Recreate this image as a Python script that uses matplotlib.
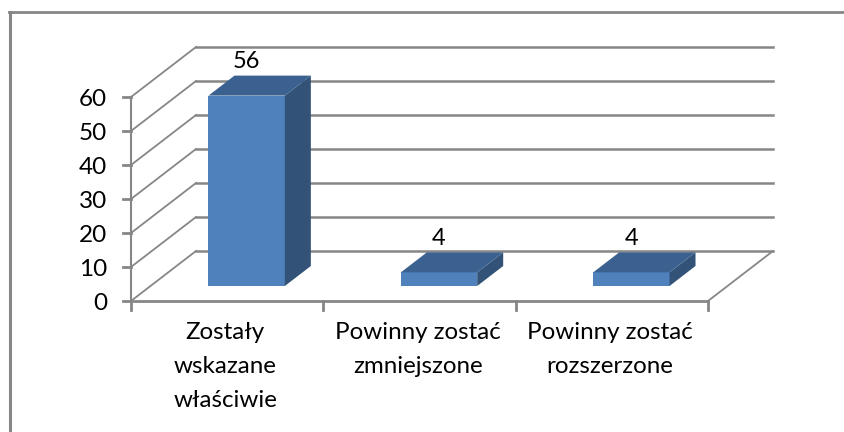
import matplotlib
matplotlib.use('Agg')
import matplotlib.pyplot as plt

categories = ['Zostały\nwskazane\nwłaściwie', 'Powinny zostać\nzmniejszone', 'Powinny zostać\nrozszerzone']
values = [56, 4, 4]
y_ticks = [0, 10, 20, 30, 40, 50, 60]

plt.rcParams['font.family'] = ['Lato', 'DejaVu Sans']

W, H = 845, 432
# front plane of the 3D box in pixels
left, right, top, bottom = 131, 708, 97, 301
# depth of the box in data units
depth_x = 65 / ((right - left) / 3)
depth_y = 50 / ((bottom - top) / 60)
bar_width = 0.397
d0, d1 = 0.3, 0.7

grid_col = '#868686'
front_col = '#4f81bd'
top_col = '#3b6190'
side_col = '#325277'


def shift(x, y, d):
    return x + d * depth_x, y + d * depth_y


fig = plt.figure(figsize=(W / 100, H / 100), dpi=100)

# chart frame, only top and left are in the crop
fig.add_artist(plt.Line2D([10.5 / W, 10.5 / W], [0, 1 - 12 / H], color=grid_col, lw=2.2))
fig.add_artist(plt.Line2D([9.5 / W, 1], [1 - 12 / H, 1 - 12 / H], color=grid_col, lw=2))

ax = fig.add_axes([left / W, 1 - bottom / H, (right - left) / W, (bottom - top) / H])
ax.set_xlim(0, len(values))
ax.set_ylim(0, 60)
ax.axis('off')

# walls and gridlines
for t in y_ticks:
    bx, by = shift(0, t, 1)
    ex, ey = shift(len(values), t, 1)
    ax.plot([0, bx], [t, by], color=grid_col, lw=1.3, clip_on=False)
    ax.plot([bx, ex], [by, ey], color=grid_col, lw=1.8, clip_on=False)
    ax.plot([-0.04, 0], [t, t], color=grid_col, lw=2, clip_on=False)
    ax.text(-0.125, t - 0.7, str(t), ha='right', va='center', fontsize=17.5, color='black', clip_on=False)
ex, ey = shift(len(values), 0, 1)
ax.plot([len(values), ex], [0, ey], color=grid_col, lw=1.3, clip_on=False)

# axes
ax.plot([0, 0], [0, 60], color=grid_col, lw=1.5, clip_on=False)
ax.plot([0, len(values)], [0, 0], color=grid_col, lw=2, clip_on=False)
for i in range(len(values) + 1):
    ax.plot([i, i], [0, -2.6], color=grid_col, lw=2, clip_on=False)

# bars
for i, v in enumerate(values):
    x0, y0 = shift(i + 0.5 - bar_width / 2, 0, d0)
    x1 = x0 + bar_width
    ax.bar(x0, v, width=bar_width, bottom=y0, align='edge', color=front_col, clip_on=False, zorder=3)
    sx = [x1, shift(x1, 0, d1 - d0)[0], shift(x1, 0, d1 - d0)[0], x1]
    sy = [y0, y0 + (d1 - d0) * depth_y, y0 + v + (d1 - d0) * depth_y, y0 + v]
    ax.fill(sx, sy, color=side_col, lw=0, clip_on=False, zorder=3)
    tx = [x0, x1, sx[1], x0 + (d1 - d0) * depth_x]
    ty = [y0 + v, y0 + v, sy[2], sy[2]]
    ax.fill(tx, ty, color=top_col, lw=0, clip_on=False, zorder=3)
    ax.text((x0 + x1) / 2, sy[2] + 1.0, str(v), ha='center', va='bottom', fontsize=17, color='black', zorder=4)
    ax.text(i + 0.49, -6.2, categories[i], ha='center', va='top', fontsize=17.4, color='black',
            linespacing=1.76, clip_on=False)

fig.savefig('out.png', dpi=100)
